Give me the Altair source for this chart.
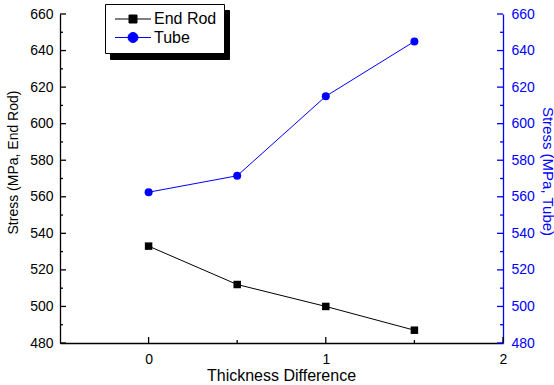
import altair as alt
import pandas as pd

# ---- data ----
thickness = [0.0, 0.5, 1.0, 1.5]
end_rod_stress = [533, 512, 500, 487]
tube_stress = [562.5, 571.5, 615, 645]
series_names = ["End Rod", "Tube"]
series_colors = ["#000000", "#0000ff"]
x_major = [0, 1, 2]
x_minor = [0.5, 1.5]
y_major = list(range(480, 661, 20))
y_minor = list(range(490, 651, 20))
x_domain = [-0.5, 2]
y_domain = [480, 660]

df = pd.DataFrame({"x": thickness, "end_rod": end_rod_stress, "tube": tube_stress})
leg = pd.DataFrame({"series": series_names})
leg_shadow = pd.DataFrame({"shadow": series_names[::-1]})

FONT = "Liberation Sans, Arial, sans-serif"
BLUE = "#0000ff"
W, H = 443, 329

x_scale = alt.Scale(domain=x_domain, nice=False, zero=False)
y_scale = alt.Scale(domain=y_domain, nice=False, zero=False)

x_axis = alt.Axis(
    orient="bottom", values=x_major, format="d", ticks=False,
    labelPadding=9, grid=False, domainColor="black", domainWidth=1.3,
    labelColor="black", labelFont=FONT, labelFontSize=14,
    labelOverlap=False, labelFlush=False,
    title="Thickness Difference", titleFont=FONT, titleFontSize=16,
    titleFontWeight="normal", titleColor="black",
    titleX=221, titleY=37, titleBaseline="alphabetic", titleAlign="center",
)
left_axis = alt.Axis(
    orient="left", values=y_major, format="d", ticks=False,
    labelPadding=7, grid=False, domainColor="black", domainWidth=1.3,
    labelColor="black", labelFont=FONT, labelFontSize=14,
    labelOverlap=False, labelFlush=False,
    title="Stress (MPa, End Rod)", titleFont=FONT, titleFontSize=14,
    titleFontWeight="normal", titleColor="black",
    titleAngle=270, titleX=-43, titleY=148, titleBaseline="alphabetic", titleAlign="center",
)
right_axis = alt.Axis(
    orient="right", values=y_major, format="d", ticks=False,
    labelPadding=8, grid=False, domainColor=BLUE, domainWidth=1.3,
    labelColor=BLUE, labelFont=FONT, labelFontSize=14,
    labelOverlap=False, labelFlush=False,
    title="Stress (MPa, Tube)", titleFont=FONT, titleFontSize=15,
    titleFontWeight="normal", titleColor=BLUE,
    titleAngle=90, titleX=39, titleY=157, titleBaseline="alphabetic", titleAlign="center",
)

end_rod_layer = alt.Chart(df).mark_line(
    color="black", strokeWidth=1,
    point=alt.OverlayMarkDef(shape="square", filled=True, size=56, color="black", opacity=1),
).encode(
    x=alt.X("x:Q", scale=x_scale, axis=x_axis),
    y=alt.Y("end_rod:Q", scale=y_scale, axis=left_axis),
)

tube_layer = alt.Chart(df).mark_line(
    color=BLUE, strokeWidth=1,
    point=alt.OverlayMarkDef(shape="circle", filled=True, size=64, color=BLUE, opacity=1),
).encode(
    x=alt.X("x:Q", scale=x_scale, axis=None),
    y=alt.Y("tube:Q", scale=y_scale, axis=right_axis),
)


# inward ticks drawn as short rules positioned through the scales
def y_ticks(values, at, length, color):
    return alt.Chart(pd.DataFrame({"v": values})).mark_rule(
        color=color, strokeWidth=1.3, x2Offset=length
    ).encode(
        y=alt.Y("v:Q", scale=y_scale, axis=None),
        x=alt.X(datum=at, scale=x_scale, axis=None),
        x2=alt.X2(datum=at),
    )


def x_ticks(values, length):
    return alt.Chart(pd.DataFrame({"v": values})).mark_rule(
        color="black", strokeWidth=1.3, y2Offset=-length
    ).encode(
        x=alt.X("v:Q", scale=x_scale, axis=None),
        y=alt.Y(datum=y_domain[0], scale=y_scale, axis=None),
        y2=alt.Y2(datum=y_domain[0]),
    )


tick_layers = [
    y_ticks(y_major, x_domain[0], 6, "black"),
    y_ticks(y_minor, x_domain[0], 3, "black"),
    y_ticks(y_major, x_domain[1], -6, BLUE),
    y_ticks(y_minor, x_domain[1], -3, BLUE),
    x_ticks(x_major, 6),
    x_ticks(x_minor, 3),
]

sq_path = "M-4.5,0L4.5,0M-1,-1L1,-1L1,1L-1,1Z"
ci_path = "M-4.5,0L4.5,0M1.25,0A1.25,1.25,0,1,1,-1.25,0A1.25,1.25,0,1,1,1.25,0Z"

common_leg = dict(
    title=None, orient="none", padding=7, labelFont=FONT, labelFontSize=16,
    symbolSize=64, symbolStrokeWidth=1, symbolOffset=13,
    labelOffset=13, rowPadding=2.5,
)
legend_main = alt.Legend(legendX=45, legendY=-10, strokeColor="black", fillColor="white",
                         labelColor="black", zindex=2, symbolOpacity=1, **common_leg)
legend_shadow = alt.Legend(legendX=50, legendY=-4, strokeColor="black", fillColor="black",
                           labelColor="black", zindex=1, symbolType="circle", symbolFillColor="black",
                           symbolStrokeColor="black", **common_leg)

legend_layer = alt.Chart(leg).transform_filter("false").mark_point(filled=True, size=64).encode(
    shape=alt.Shape("series:N", scale=alt.Scale(domain=series_names, range=[sq_path, ci_path]), legend=legend_main),
    fill=alt.Fill("series:N", scale=alt.Scale(domain=series_names, range=series_colors), legend=legend_main),
    stroke=alt.Stroke("series:N", scale=alt.Scale(domain=series_names, range=series_colors), legend=legend_main),
)

shadow_layer = alt.Chart(leg_shadow).transform_filter("false").mark_line().encode(
    strokeDash=alt.StrokeDash("shadow:N", scale=alt.Scale(domain=series_names[::-1], range=[[1, 0], [1, 0]]),
                              legend=legend_shadow),
)

chart = alt.layer(
    end_rod_layer, tube_layer, *tick_layers, shadow_layer, legend_layer
).resolve_scale(
    y="independent"
).resolve_axis(
    x="independent", y="independent"
).properties(
    width=W, height=H,
    padding={"left": 60, "top": 14, "right": 51, "bottom": 42},
    autosize=alt.AutoSizeParams(type="none"),
    background="white",
).configure(font=FONT).configure_view(stroke=None)

chart.save("out.html", embed_options={"renderer": "svg", "actions": False})
